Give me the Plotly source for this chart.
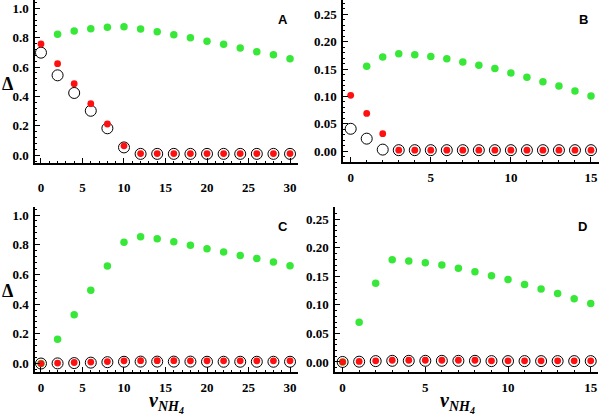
import plotly.graph_objects as go

# ---------------- data ----------------
x_A = [0, 2, 4, 6, 8, 10, 12, 14, 16, 18, 20, 22, 24, 26, 28, 30]
x_A_green = [2, 4, 6, 8, 10, 12, 14, 16, 18, 20, 22, 24, 26, 28, 30]
A_green = [0.823, 0.846, 0.861, 0.871, 0.875, 0.859, 0.841, 0.820, 0.800, 0.776, 0.755, 0.730, 0.705, 0.683, 0.657]
A_red = [0.757, 0.623, 0.487, 0.351, 0.213, 0.065, 0.012, 0.012, 0.012, 0.012, 0.012, 0.012, 0.012, 0.012, 0.012, 0.012]
A_open = [0.698, 0.544, 0.424, 0.303, 0.184, 0.054, 0.010, 0.010, 0.010, 0.010, 0.010, 0.010, 0.010, 0.010, 0.010, 0.010]

x_B = [0, 1, 2, 3, 4, 5, 6, 7, 8, 9, 10, 11, 12, 13, 14, 15]
x_B_green = [1, 2, 3, 4, 5, 6, 7, 8, 9, 10, 11, 12, 13, 14, 15]
B_green = [0.155, 0.172, 0.178, 0.176, 0.173, 0.169, 0.163, 0.157, 0.151, 0.143, 0.135, 0.127, 0.119, 0.110, 0.101]
B_red = [0.102, 0.069, 0.032, 0.002, 0.002, 0.002, 0.002, 0.002, 0.002, 0.002, 0.002, 0.002, 0.002, 0.002, 0.002, 0.002]
B_open = [0.041, 0.023, 0.003, 0.002, 0.002, 0.002, 0.002, 0.002, 0.002, 0.002, 0.002, 0.002, 0.002, 0.002, 0.002, 0.002]

x_C = [0, 2, 4, 6, 8, 10, 12, 14, 16, 18, 20, 22, 24, 26, 28, 30]
C_green = [0.0, 0.164, 0.328, 0.494, 0.656, 0.816, 0.854, 0.840, 0.820, 0.796, 0.773, 0.751, 0.728, 0.708, 0.683, 0.658]
C_red = [0.0, 0.003, 0.007, 0.010, 0.013, 0.018, 0.019, 0.019, 0.019, 0.018, 0.018, 0.018, 0.018, 0.018, 0.018, 0.018]
C_open = [0.0, 0.001, 0.003, 0.006, 0.009, 0.012, 0.013, 0.013, 0.013, 0.013, 0.012, 0.012, 0.012, 0.012, 0.012, 0.012]

x_D = [0, 1, 2, 3, 4, 5, 6, 7, 8, 9, 10, 11, 12, 13, 14, 15]
D_green = [0.0, 0.0697, 0.138, 0.179, 0.177, 0.174, 0.170, 0.1645, 0.158, 0.151, 0.1446, 0.136, 0.128, 0.120, 0.111, 0.1025]
D_red = [0.0, 0.001, 0.002, 0.003, 0.003, 0.003, 0.003, 0.003, 0.003, 0.002, 0.002, 0.002, 0.002, 0.002, 0.002, 0.002]
D_open = [0.0, 0.0005, 0.0015, 0.002, 0.002, 0.002, 0.002, 0.002, 0.002, 0.0015, 0.0015, 0.0015, 0.0015, 0.0015, 0.0015, 0.0015]

panel_labels = ["A", "B", "C", "D"]

# ---------------- styling ----------------
W, H = 600, 414
GREEN = "#38e838"
RED = "#ff1010"

def px_x(p):
    return p / W

def px_y(p):
    return 1 - p / H

fig = go.Figure()

panels = [
    ("", x_A, x_A_green, A_green, A_red, A_open, (35, 298), (0, 163), [-0.72, 30.96], [-0.052, 1.056], 0.2, 0.04, ".1f", 2, 12),
    ("2", x_B, x_B_green, B_green, B_red, B_open, (343, 599), (0, 162), [-0.48, 15.5], [-0.0196, 0.276], 0.05, 0.01, ".2f", 2, 3),
    ("3", x_C, x_C, C_green, C_red, C_open, (35, 298), (207, 372), [-0.72, 30.96], [-0.057, 1.054], 0.2, 0.04, ".1f", 2, 3),
    ("4", x_D, x_D, D_green, D_red, D_open, (335, 598), (207, 372), [-0.46, 15.44], [-0.0176, 0.2717], 0.05, 0.01, ".2f", 2, 3),
]

tickfont = dict(family="Liberation Serif", size=13, color="black", weight="bold")

for (suf, xs, xg, g, r, o, xd, yd, xr, yr, ydt, ymin, yfmt, ystand, xstand) in panels:
    xa = "x" + suf
    ya = "y" + suf
    fig.add_trace(go.Scatter(x=xg, y=g, mode="markers", xaxis=xa, yaxis=ya,
                             marker=dict(color=GREEN, size=7.5, line=dict(width=0)), showlegend=False))
    fig.add_trace(go.Scatter(x=xs, y=o, mode="markers", xaxis=xa, yaxis=ya,
                             marker=dict(symbol="circle-open", color="black", size=11, line=dict(width=1)),
                             showlegend=False))
    fig.add_trace(go.Scatter(x=xs, y=r, mode="markers", xaxis=xa, yaxis=ya,
                             marker=dict(color=RED, size=6.8, line=dict(width=0)), showlegend=False))
    fig.update_layout(**{
        "xaxis" + suf: dict(domain=[px_x(xd[0]), px_x(xd[1])], range=xr, anchor=ya,
                            showline=True, linecolor="black", linewidth=1.5, showgrid=False, zeroline=False,
                            ticks="inside", ticklen=5, tickwidth=1, tickcolor="black",
                            dtick=5, tick0=0,
                            minor=dict(ticks="inside", ticklen=2.5, tickwidth=1, tickcolor="black",
                                       dtick=1, showgrid=False),
                            tickfont=tickfont, ticklabelstandoff=xstand),
        "yaxis" + suf: dict(domain=[px_y(yd[1]), px_y(yd[0])], range=yr, anchor=xa,
                            showline=True, linecolor="black", linewidth=1.5, showgrid=False, zeroline=False,
                            ticks="inside", ticklen=5, tickwidth=1, tickcolor="black",
                            dtick=ydt, tick0=0, tickformat=yfmt,
                            minor=dict(ticks="inside", ticklen=2.5, tickwidth=1, tickcolor="black",
                                       dtick=ymin, showgrid=False),
                            tickfont=tickfont, ticklabelstandoff=ystand),
    })

annotations = []
label_pos = [(283, 20), (583, 20), (283, 226), (582, 226)]
for lab, (lx, ly) in zip(panel_labels, label_pos):
    annotations.append(dict(text=lab, x=px_x(lx), y=px_y(ly), xref="paper", yref="paper",
                            showarrow=False, xanchor="center", yanchor="middle",
                            font=dict(family="Liberation Sans", size=13, color="black", weight="bold")))

for dy in (84, 291):
    annotations.append(dict(text="Δ", x=px_x(7), y=px_y(dy), xref="paper", yref="paper",
                            showarrow=False, xanchor="center", yanchor="middle",
                            font=dict(family="Liberation Serif", size=18, color="black", weight="bold")))

xtitle = "<i>v</i><sub><i>NH<sub>4</sub></i></sub>"
for tx in (166, 457):
    annotations.append(dict(text=xtitle, x=px_x(tx), y=px_y(402), xref="paper", yref="paper",
                            showarrow=False, xanchor="center", yanchor="middle",
                            font=dict(family="Liberation Serif", size=20, color="black", weight="bold")))

fig.update_layout(width=W, height=H, margin=dict(l=0, r=0, t=0, b=0),
                  paper_bgcolor="white", plot_bgcolor="white", showlegend=False,
                  annotations=annotations)

fig.write_html("out.html", config={"displayModeBar": False},
               post_script="document.body.style.margin='0';document.body.style.overflow='hidden';")
